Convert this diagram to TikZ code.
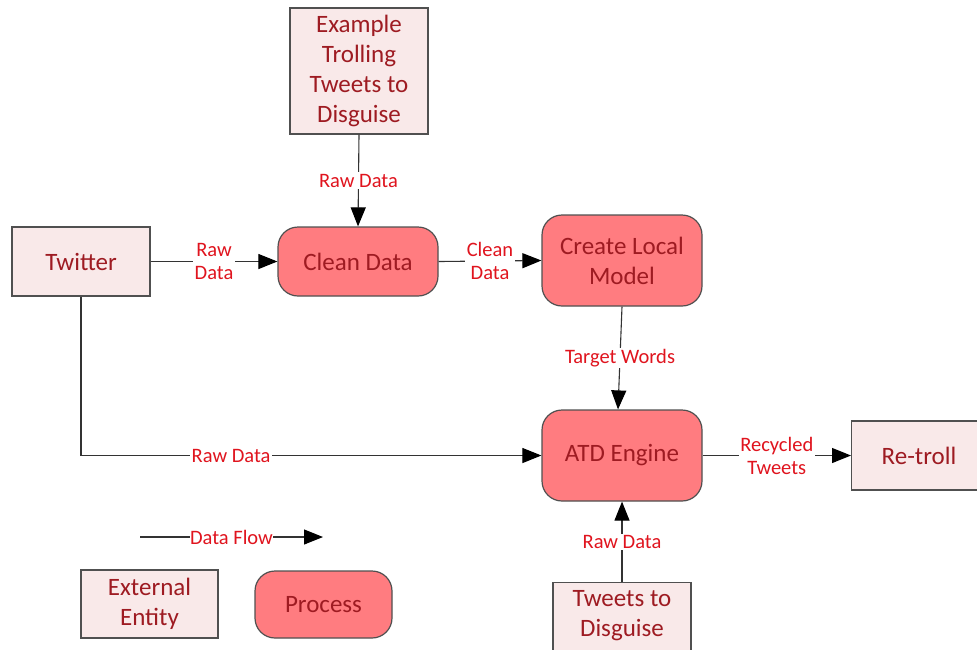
\documentclass[tikz,border=0pt]{standalone}
\usepackage{fontspec}
\setmainfont{Carlito}
\usetikzlibrary{arrows.meta}
\definecolor{entfill}{HTML}{F9E9E9}
\definecolor{procfill}{HTML}{FF7C80}
\definecolor{edgegray}{HTML}{505050}
\definecolor{nodetext}{HTML}{9E1B22}
\definecolor{labtext}{HTML}{E0141E}
\tikzset{
  nodefont/.style={font=\fontsize{25}{30}\selectfont},
  base/.style={draw=edgegray, line width=1.2pt, text=nodetext, align=center,
    nodefont, inner sep=0pt},
  entity/.style={base, fill=entfill, rectangle},
  proc/.style={base, fill=procfill, rounded corners=20pt},
  flow/.style={draw=black!80, line width=1.1pt, -{Triangle[length=19pt,width=15pt,color=black]}},
  lab/.style={fill=white, text=labtext, align=center, inner sep=1.5pt,
    font=\fontsize{20.5}{23}\selectfont}
}
\begin{document}
\begin{tikzpicture}[x=1pt,y=-1pt]
\useasboundingbox (0,0) rectangle (977,649);
\begin{scope}
\clip (0,0) rectangle (977,649);
% entities
\node[entity, minimum width=138pt, minimum height=126pt] (ex) at (359,71) {Example\\Trolling\\Tweets to\\Disguise};
\node[entity, minimum width=138pt, minimum height=69pt] (tw) at (81,261.5) {Twitter};
\node[entity, minimum width=140pt, minimum height=69pt, anchor=west] (rt) at (851,455.5) {};
\node[text=nodetext, nodefont] (rtt) at (919,455.5) {Re-troll};
\node[entity, minimum width=138pt, minimum height=90pt, anchor=north] (td) at (622,582) {};
\node[text=nodetext, nodefont, align=center] (tdt) at (622,616) {Tweets to\\Disguise};
\node[entity, minimum width=137pt, minimum height=68pt] (ee) at (149.5,604) {External\\Entity};
% processes
\node[proc, minimum width=160pt, minimum height=69pt] (cd) at (358,261.5) {Clean Data};
\node[proc, minimum width=160pt, minimum height=91pt] (cl) at (622,260.5) {Create Local\\Model};
\node[proc, minimum width=160pt, minimum height=91pt] (atd) at (622,455.5) {ATD Engine};
\node[proc, minimum width=137pt, minimum height=67pt] (pr) at (323.5,604.5) {Process};
% flows
\draw[flow] (ex.south) -- (cd.north) node[lab, pos=0.5] {Raw Data};
\draw[flow] (tw.east) -- (cd.west) node[lab, pos=0.5] {Raw\\Data};
\draw[flow] (cd.east) -- (cl.west) node[lab, pos=0.5] {Clean\\Data};
\draw[flow] (cl.south) -- ([xshift=-4pt]atd.north) node[lab, pos=0.5] {Target Words};
\draw[flow] (tw.south) |- (atd.west) node[lab, pos=0.663] {Raw Data};
\draw[flow] (atd.east) -- (rt.west) node[lab, pos=0.5] {Recycled\\Tweets};
\draw[flow] (td.north) -- (atd.south) node[lab, pos=0.5] {Raw Data};
% legend
\coordinate (lf1) at (140,537);
\coordinate (lf2) at (323,537);
\draw[flow] (lf1) -- (lf2) node[lab, pos=0.5, inner sep=0.5pt] {Data Flow};
\end{scope}
\end{tikzpicture}
\end{document}
